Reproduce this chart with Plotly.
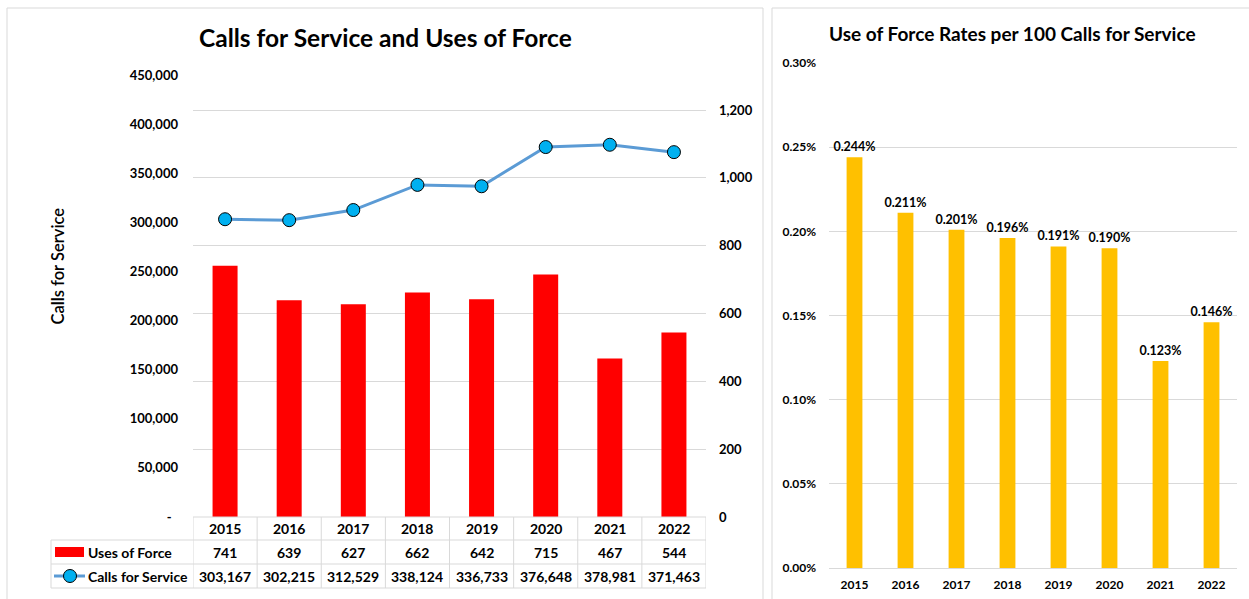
import plotly.graph_objects as go

# ---------------- data ----------------
years = ["2015", "2016", "2017", "2018", "2019", "2020", "2021", "2022"]
uses_of_force = [741, 639, 627, 662, 642, 715, 467, 544]
calls_for_service = [303167, 302215, 312529, 338124, 336733, 376648, 378981, 371463]
rate_pct = [0.244, 0.211, 0.201, 0.196, 0.191, 0.190, 0.123, 0.146]

calls_ticks = [0, 50000, 100000, 150000, 200000, 250000, 300000, 350000, 400000, 450000]
calls_tick_labels = ["-\u00a0\u00a0", "50,000", "100,000", "150,000", "200,000", "250,000",
                     "300,000", "350,000", "400,000", "450,000"]
uof_ticks = [0, 200, 400, 600, 800, 1000, 1200]
rate_ticks = [0.00, 0.05, 0.10, 0.15, 0.20, 0.25, 0.30]
rate_tick_labels = [f"{v:.2f}%" for v in rate_ticks]

left_title = "Calls for Service and Uses of Force"
right_title = "Use of Force Rates per 100 Calls for Service"
left_axis_title = "Calls for Service"
series_uof = "Uses of Force"
series_cfs = "Calls for Service"

# ---------------- layout helpers ----------------
W, H = 1249, 599
def X(px):
    return px / W
def Y(py):
    return 1 - py / H

FONT = "Lato"
GRID = "#D9D9D9"
BORDER = "#D9D9D9"
BAR_RED = "#FF0000"
LINE_BLUE = "#5B9BD5"
MARK_BLUE = "#00B0F0"
GOLD = "#FFC000"

# left plot area in pixels
LX0, LX1, LY0, LY1 = 193, 706, 75, 517
# right plot area
RX0, RX1, RY0, RY1 = 829, 1237, 63, 568

uof_max = 1200 * (LY1 - LY0) / (LY1 - 110)

fig = go.Figure()

fig.add_trace(go.Bar(
    x=years, y=uses_of_force, xaxis="x", yaxis="y",
    marker=dict(color=BAR_RED, line=dict(width=0)), width=0.39,
    name=series_uof, showlegend=False,
))
fig.add_trace(go.Scatter(
    x=years, y=calls_for_service, xaxis="x", yaxis="y2",
    mode="lines+markers",
    line=dict(color=LINE_BLUE, width=3),
    marker=dict(size=13, color=MARK_BLUE, line=dict(color="#000000", width=1)),
    name=series_cfs, showlegend=False,
))
fig.add_trace(go.Bar(
    x=years, y=rate_pct, xaxis="x2", yaxis="y3",
    marker=dict(color=GOLD, line=dict(width=0)), width=0.31,
    texttemplate="%{y:.3f}%", textposition="outside", constraintext="none",
    textfont=dict(family=FONT, size=12.5, color="#000000", weight="bold"),
    cliponaxis=False, showlegend=False,
))

tick_font = dict(family=FONT, size=13, color="#000000", weight="bold")
small_font = dict(family=FONT, size=12, color="#000000", weight="bold")

fig.update_layout(
    width=W, height=H,
    autosize=False,
    margin=dict(l=0, r=0, t=0, b=0, autoexpand=False),
    paper_bgcolor="white", plot_bgcolor="white",
    showlegend=False,
    xaxis=dict(domain=[X(LX0), X(LX1)], type="category", range=[-0.5, 7.5],
               showticklabels=False, showgrid=False, showline=False, zeroline=False, ticks=""),
    yaxis=dict(domain=[Y(LY1), Y(LY0)], side="right", range=[0, uof_max],
               tickvals=uof_ticks, tickformat=",", showgrid=True, gridcolor=GRID, gridwidth=1,
               zeroline=False, showline=False, ticks="", tickfont=tick_font,
               ticklabelstandoff=12),
    yaxis2=dict(overlaying="y", side="left", range=[0, 450000],
                tickvals=calls_ticks, ticktext=calls_tick_labels, showgrid=False,
                zeroline=False, showline=False, ticks="", tickfont=tick_font,
                ticklabelstandoff=14),
    xaxis2=dict(domain=[X(RX0), X(RX1)], type="category", range=[-0.5, 7.5], anchor="y3",
                showgrid=False, showline=True, linecolor=GRID, linewidth=1, zeroline=False,
                ticks="", tickfont=small_font, ticklabelstandoff=6),
    yaxis3=dict(domain=[Y(RY1), Y(RY0)], anchor="x2", range=[0, 0.30],
                tickvals=rate_ticks, ticktext=rate_tick_labels,
                showgrid=True, gridcolor=GRID, gridwidth=1, zeroline=False, showline=False,
                ticks="", tickfont=small_font, ticklabelstandoff=12),
)

shapes = []
# chart area borders
shapes.append(dict(type="rect", xref="paper", yref="paper", x0=X(7), x1=X(763), y0=Y(8), y1=Y(640),
                   line=dict(color=BORDER, width=1), fillcolor="rgba(0,0,0,0)", layer="below"))
shapes.append(dict(type="rect", xref="paper", yref="paper", x0=X(772), x1=X(1290), y0=Y(8), y1=Y(640),
                   line=dict(color=BORDER, width=1), fillcolor="rgba(0,0,0,0)", layer="below"))

# data table lines
ROW0, ROW1, ROW2, ROW3 = 517, 540, 564, 588
TBL_LEFT = 51
shapes.append(dict(type="line", xref="x", yref="paper", x0=-0.5, x1=7.5, y0=Y(ROW0), y1=Y(ROW0),
                   line=dict(color=GRID, width=1)))
for ry in (ROW1, ROW2, ROW3):
    shapes.append(dict(type="line", xref="paper", yref="paper", x0=X(TBL_LEFT), x1=X(LX1),
                       y0=Y(ry), y1=Y(ry), line=dict(color=GRID, width=1)))
shapes.append(dict(type="line", xref="paper", yref="paper", x0=X(TBL_LEFT), x1=X(TBL_LEFT),
                   y0=Y(ROW1), y1=Y(ROW3), line=dict(color=GRID, width=1)))
for i in range(len(years) + 1):
    shapes.append(dict(type="line", xref="x", yref="paper", x0=i - 0.5, x1=i - 0.5,
                       y0=Y(ROW0), y1=Y(ROW3), line=dict(color=GRID, width=1)))

# legend keys inside the table
shapes.append(dict(type="rect", xref="paper", yref="paper", x0=X(55), x1=X(84), y0=Y(557), y1=Y(547),
                   line=dict(width=0), fillcolor=BAR_RED))
shapes.append(dict(type="line", xref="paper", yref="paper", x0=X(54), x1=X(85), y0=Y(576), y1=Y(576),
                   line=dict(color=LINE_BLUE, width=3)))
shapes.append(dict(type="circle", xref="paper", yref="paper", x0=X(63.5), x1=X(76.5), y0=Y(582.5), y1=Y(569.5),
                   line=dict(color="#000000", width=1), fillcolor=MARK_BLUE))

annotations = []
annotations.append(dict(text=left_title, xref="paper", yref="paper", x=X(385), y=Y(38),
                        xanchor="center", yanchor="middle", showarrow=False,
                        font=dict(family=FONT, size=24.5, color="#000000", weight="bold")))
annotations.append(dict(text=right_title, xref="paper", yref="paper", x=X(1012), y=Y(33),
                        xanchor="center", yanchor="middle", showarrow=False,
                        font=dict(family=FONT, size=19, color="#000000", weight="bold")))
annotations.append(dict(text=left_axis_title, xref="paper", yref="paper", x=X(57), y=Y(266.5),
                        xanchor="center", yanchor="middle", showarrow=False, textangle=-90,
                        font=dict(family=FONT, size=16.5, color="#000000", weight=600)))

table_font = dict(family=FONT, size=14, color="#000000", weight="bold")
for i, yr in enumerate(years):
    annotations.append(dict(text=yr, xref="x", yref="paper", x=i, y=Y((ROW0 + ROW1) / 2),
                            xanchor="center", yanchor="middle", showarrow=False, font=table_font))
    annotations.append(dict(text=f"{uses_of_force[i]:,}", xref="x", yref="paper", x=i,
                            y=Y((ROW1 + ROW2) / 2), xanchor="center", yanchor="middle",
                            showarrow=False, font=table_font))
    annotations.append(dict(text=f"{calls_for_service[i]:,}", xref="x", yref="paper", x=i,
                            y=Y((ROW2 + ROW3) / 2), xanchor="center", yanchor="middle",
                            showarrow=False, font=table_font))
annotations.append(dict(text=series_uof, xref="paper", yref="paper", x=X(86), y=Y((ROW1 + ROW2) / 2),
                        xanchor="left", yanchor="middle", showarrow=False, font=table_font))
annotations.append(dict(text=series_cfs, xref="paper", yref="paper", x=X(86), y=Y((ROW2 + ROW3) / 2),
                        xanchor="left", yanchor="middle", showarrow=False, font=table_font))

fig.update_layout(shapes=shapes, annotations=annotations)

fig.write_html("out.html",
               config={"displayModeBar": False},
               post_script="document.body.style.margin='0';document.body.style.overflow='hidden';")
